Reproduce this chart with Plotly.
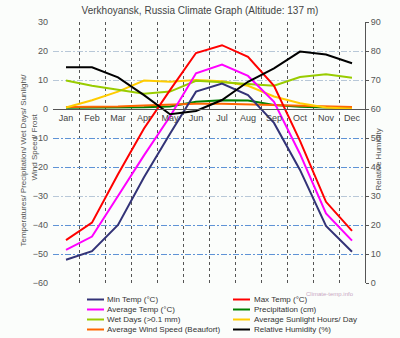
import plotly.graph_objects as go

months = ["Jan", "Feb", "Mar", "Apr", "May", "Jun", "Jul", "Aug", "Sep", "Oct", "Nov", "Dec"]
min_temp = [-52, -49, -40, -23.5, -8.5, 6, 8.8, 4.8, -4.8, -21, -40.3, -49.2]
max_temp = [-45.2, -39.2, -22.5, -6.7, 6.5, 19.3, 22, 18, 8, -11, -32, -42]
avg_temp = [-48.6, -44, -30, -16, -2.6, 12.3, 15.3, 11.4, 2.5, -15.5, -36, -45.4]
precip = [0.4, 0.4, 0.4, 0.6, 0.9, 2.5, 3.0, 2.9, 1.4, 0.8, 0.5, 0.4]
wet_days = [9.8, 8, 6.6, 5.3, 6, 9.7, 9.2, 8.6, 8, 11, 12, 10.8]
sunlight = [0.5, 3, 6, 9.8, 9.4, 10, 9.6, 8, 4.3, 2, 0.5, 0.1]
wind = [0.7, 0.7, 0.9, 1.2, 1.5, 1.8, 1.8, 1.6, 1.2, 1.0, 0.8, 0.7]
humidity = [74.4, 74.4, 70.9, 64.8, 58.2, 59.3, 63.1, 69.4, 74, 79.8, 78.8, 75.8]

names = ["Min Temp (°C)", "Max Temp (°C)", "Average Temp (°C)", "Precipitation (cm)",
         "Wet Days (>0.1 mm)", "Average Sunlight Hours/ Day",
         "Average Wind Speed (Beaufort)", "Relative Humidity (%)"]
colors = ["#333377", "#ff0000", "#ff00ff", "#008000", "#99cc00", "#ffcc00", "#ff6600", "#000000"]
series = [min_temp, max_temp, avg_temp, precip, wet_days, sunlight, wind, humidity]

W, H = 400, 338
L, R, T, B = 53, 35, 22, 55
PW, PH = W - L - R, H - T - B

def px(x):
    return (x - L) / PW

def py(y):
    return (H - B - y) / PH

xs = list(range(len(months)))
fig = go.Figure()
draw_order = [3, 6, 5, 4, 2, 0, 1, 7]
for i in draw_order:
    fig.add_trace(go.Scatter(
        x=xs, y=series[i], name=names[i], mode="lines",
        line=dict(color=colors[i], width=2),
        yaxis="y2" if i == 7 else "y", showlegend=False))

font = "Liberation Sans, Arial, sans-serif"
fig.update_layout(
    width=W, height=H,
    margin=dict(l=L, r=R, t=T, b=B),
    paper_bgcolor="#fbfdfb", plot_bgcolor="#fbfdfb",
    font=dict(family=font, size=9, color="#444"),
    title=dict(text="Verkhoyansk, Russia Climate Graph (Altitude: 137 m)",
               x=0.5, xref="container", y=1 - 10 / H, yref="container",
               yanchor="middle", font=dict(size=10, color="#444")),
    xaxis=dict(range=[-0.5, 11.5], tickvals=xs, ticktext=months,
               anchor="free", position=2 / 3, showline=True, linecolor="#555",
               linewidth=1, showgrid=False, zeroline=False, ticks="",
               tickfont=dict(size=9, color="#444"),
               minor=dict(tickvals=[i + 0.5 for i in range(11)], showgrid=True,
                          gridcolor="#555", griddash="dot", gridwidth=1, ticks="")),
    yaxis=dict(range=[-60, 30], dtick=10, showgrid=False, zeroline=False,
               showline=False, ticks="", ticklabelstandoff=4,
               tickfont=dict(size=9, color="#555"),
               minor=dict(tickvals=[-50, -40, -20, -10], showgrid=True,
                          gridcolor="#5f93d6", griddash="6px,2px,2px,2px", gridwidth=1, ticks="")),
    yaxis2=dict(range=[0, 90], dtick=10, overlaying="y", side="right",
                showgrid=False, zeroline=False, showline=True, linecolor="#555",
                ticks="outside", ticklen=3, tickcolor="#555",
                tickfont=dict(size=9, color="#555"),
                minor=dict(tickvals=[30, 70, 80], showgrid=True,
                           gridcolor="#b8c8d8", griddash="6px,2px,2px,2px", gridwidth=1, ticks="")),
)

ann = []
ann.append(dict(text="Temperatures/ Precipitation/ Wet Days/ Sunlight/", textangle=-90,
                x=px(16), y=py(160), xref="paper", yref="paper", showarrow=False,
                font=dict(size=8, color="#555")))
ann.append(dict(text="Wind Speed/ Frost", textangle=-90,
                x=px(27), y=py(147), xref="paper", yref="paper", showarrow=False,
                font=dict(size=8, color="#555")))
ann.append(dict(text="Relative Humidity", textangle=-90,
                x=px(384), y=py(160), xref="paper", yref="paper", showarrow=False,
                font=dict(size=8, color="#555")))
ann.append(dict(text="Climate-temp.info", x=px(356), y=py(299), xref="paper", yref="paper",
                showarrow=False, font=dict(size=6, color="#c8a8c4")))

shapes = []
legend_cols = [(87, 104, 105), (233, 250, 252)]
legend_rows = [299.5, 309.5, 319.5, 329.5]
for k, name in enumerate(names):
    r, c = divmod(k, 2)
    x0, x1, xt = legend_cols[c]
    yy = legend_rows[r]
    shapes.append(dict(type="line", xref="paper", yref="paper",
                       x0=px(x0), x1=px(x1), y0=py(yy), y1=py(yy),
                       line=dict(color=colors[k], width=2)))
    ann.append(dict(text=name, x=px(xt), y=py(yy), xref="paper", yref="paper",
                    xanchor="left", yanchor="middle", showarrow=False,
                    font=dict(size=8, color="#333")))

fig.update_layout(annotations=ann, shapes=shapes)
fig.write_html("out.html")
